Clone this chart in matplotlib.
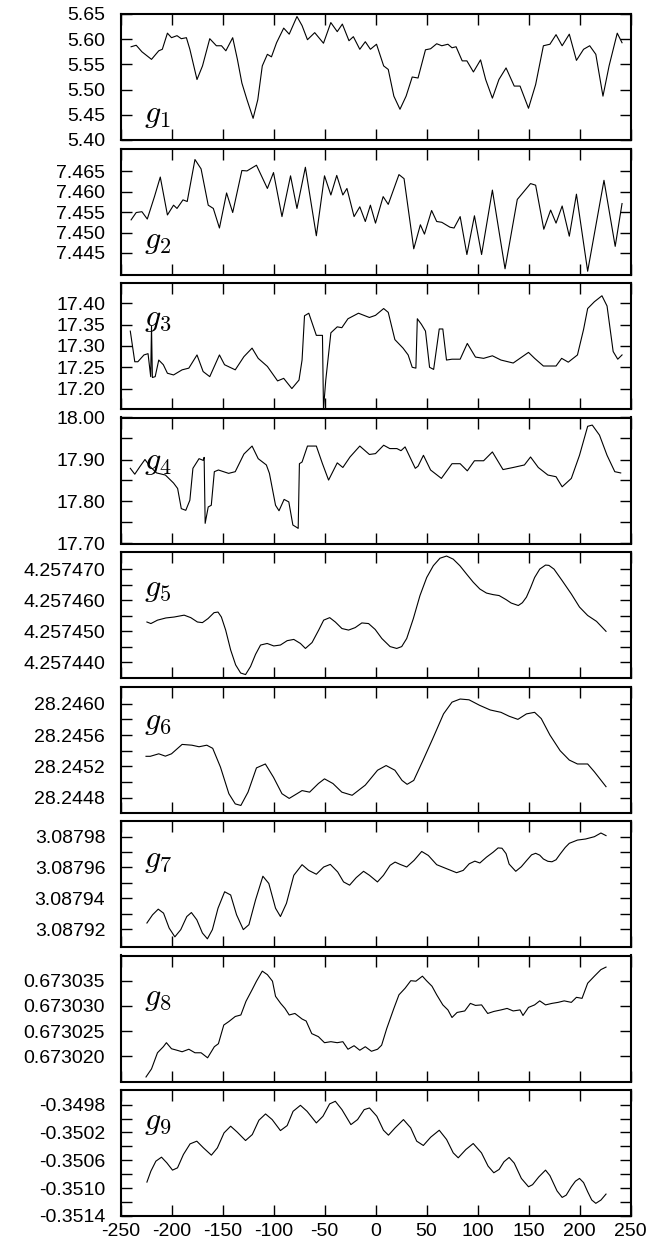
import matplotlib
matplotlib.use("Agg")
import matplotlib.pyplot as plt
from matplotlib.ticker import FixedLocator, FormatStrFormatter

plt.rcParams['font.family'] = ['Liberation Sans', 'DejaVu Sans']
plt.rcParams['mathtext.fontset'] = 'cm'

# ---- data ----
g1_x = [-239.6, -234.6, -229, -219.6, -212.5, -209, -204, -200, -194.6, -190.4, -185.4, -182, -175, -169.6,
        -162.5, -156, -151, -146.7, -140, -135.4, -131, -126, -120, -115.4, -111, -106, -102, -97, -90,
        -84.6, -77, -72, -66.7, -59.6, -51, -43.8, -37.5, -32.5, -26, -21.7, -15.4, -10, -5, 1, 8, 12.5,
        18, 24, 30, 36, 41.7, 49, 54, 60, 65, 71, 75, 79, 85, 89.6, 96, 103, 108, 114.6, 121, 128, 136,
        141.7, 150, 157, 164.6, 171, 177, 183, 190, 197, 204, 210, 216, 223, 229, 237, 241.7]
g1_y = [5.585, 5.588, 5.575, 5.560, 5.577, 5.580, 5.612, 5.603, 5.607, 5.601, 5.603, 5.580, 5.520, 5.547,
        5.601, 5.587, 5.587, 5.577, 5.603, 5.560, 5.513, 5.480, 5.443, 5.480, 5.547, 5.570, 5.565, 5.593,
        5.622, 5.610, 5.645, 5.627, 5.599, 5.613, 5.592, 5.633, 5.615, 5.630, 5.597, 5.605, 5.580, 5.595,
        5.580, 5.590, 5.547, 5.540, 5.487, 5.461, 5.487, 5.525, 5.523, 5.579, 5.581, 5.591, 5.587, 5.590,
        5.583, 5.585, 5.557, 5.557, 5.535, 5.559, 5.520, 5.483, 5.520, 5.543, 5.507, 5.507, 5.463, 5.510,
        5.587, 5.590, 5.609, 5.587, 5.610, 5.558, 5.580, 5.587, 5.570, 5.487, 5.547, 5.612, 5.593]

g2_x = [-239.6, -234.6, -229, -223.75, -216.7, -211, -204, -198, -194.6, -188.75, -184.6, -177, -171, -164,
        -159, -153, -146, -140, -131, -126, -116.7, -106, -100, -91.7, -83.3, -77, -68.75, -58, -50,
        -43.75, -38, -32, -28, -21, -15.4, -10, -5, 0, 7.5, 12.5, 23, 28, 37.5, 44, 48, 55, 60, 65, 73,
        77, 83, 89.6, 97, 104, 114.6, 127, 139, 144, 152, 157, 165, 171.7, 177, 183, 190, 197, 208, 224,
        235, 241.7]
g2_y = [7.4531, 7.4549, 7.4551, 7.4533, 7.4588, 7.4636, 7.4543, 7.4567, 7.4559, 7.4580, 7.4576, 7.4679,
        7.4656, 7.4567, 7.4559, 7.4511, 7.4597, 7.4549, 7.4652, 7.4651, 7.4665, 7.4608, 7.4647, 7.4539,
        7.4639, 7.4559, 7.4660, 7.4492, 7.4639, 7.4592, 7.4640, 7.4592, 7.4608, 7.4539, 7.4563, 7.4527,
        7.4567, 7.4523, 7.4588, 7.4569, 7.4642, 7.4632, 7.4460, 7.4519, 7.4496, 7.4554, 7.4527, 7.4525,
        7.4513, 7.4511, 7.4539, 7.4446, 7.4541, 7.4446, 7.4604, 7.4411, 7.4581, 7.4596, 7.4620, 7.4616,
        7.4508, 7.4555, 7.4523, 7.4565, 7.4491, 7.4594, 7.4405, 7.4628, 7.4466, 7.4571]

g3_x = [-240.4, -236, -233, -227, -223, -220.4, -219.6, -218.75, -216, -212.5, -208, -204, -198, -189.6,
        -183, -175, -169, -162.5, -153, -148, -137.5, -129, -121, -115, -106, -96, -90, -82, -75, -72,
        -69.6, -65.4, -58, -52, -51, -48.75, -43.75, -37.5, -33, -27, -16.7, -6, 0, 8, 12.5, 19, 27, 32,
        36, 39.6, 41, 45, 49, 53, 57, 62.5, 66, 69.6, 75, 83, 90, 98, 106, 114.6, 123, 135, 150, 156,
        164.6, 177, 182.5, 189, 198, 204, 208, 214.6, 222, 227, 233, 237.5, 241.7]
g3_y = [17.335, 17.263, 17.263, 17.279, 17.282, 17.228, 17.347, 17.226, 17.228, 17.267, 17.256, 17.236,
        17.232, 17.244, 17.248, 17.279, 17.240, 17.228, 17.279, 17.256, 17.244, 17.275, 17.295, 17.271,
        17.252, 17.218, 17.224, 17.200, 17.220, 17.267, 17.371, 17.377, 17.325, 17.325, 17.152, 17.220,
        17.331, 17.345, 17.343, 17.364, 17.377, 17.367, 17.372, 17.388, 17.379, 17.315, 17.295, 17.279,
        17.250, 17.248, 17.364, 17.351, 17.335, 17.250, 17.245, 17.340, 17.340, 17.267, 17.269, 17.269,
        17.306, 17.274, 17.271, 17.277, 17.267, 17.260, 17.285, 17.271, 17.253, 17.253, 17.271, 17.262,
        17.279, 17.339, 17.388, 17.404, 17.418, 17.394, 17.287, 17.269, 17.279]

g4_x = [-240.4, -236, -231, -226, -221, -214.6, -206, -198, -194, -190.4, -186, -182, -179, -173, -169,
        -168, -167, -164, -161, -158, -154, -144, -137.5, -129, -121, -115, -107, -104, -98, -94.6, -89.6,
        -85, -81, -77, -75.8, -74.6, -72, -66.7, -58, -52, -46, -37.5, -32, -25, -15.4, -6, 0, 8, 14, 21,
        25, 29, 39, 41.7, 47, 54, 64.6, 75, 83, 90, 97, 106, 114.6, 125, 135, 146, 152, 159.6, 169, 177,
        183, 192, 200, 208, 212.5, 219.6, 227, 234.6, 240.4]
g4_y = [17.879, 17.865, 17.883, 17.900, 17.883, 17.868, 17.863, 17.844, 17.831, 17.783, 17.779, 17.803,
        17.879, 17.902, 17.898, 17.905, 17.748, 17.787, 17.791, 17.871, 17.875, 17.867, 17.871, 17.913,
        17.932, 17.902, 17.887, 17.867, 17.791, 17.778, 17.805, 17.799, 17.744, 17.738, 17.736, 17.890,
        17.894, 17.932, 17.932, 17.890, 17.851, 17.892, 17.881, 17.906, 17.932, 17.912, 17.914, 17.934,
        17.926, 17.926, 17.921, 17.930, 17.879, 17.884, 17.910, 17.875, 17.855, 17.890, 17.890, 17.873,
        17.897, 17.897, 17.918, 17.876, 17.881, 17.887, 17.906, 17.881, 17.863, 17.859, 17.835, 17.855,
        17.910, 17.979, 17.982, 17.958, 17.910, 17.871, 17.868]

g5_x = [-224.1, -220.2, -213.7, -205.5, -197.4, -187.6, -181.1, -174.6, -169.7, -164.2, -158.3, -154.4,
        -151.1, -146.9, -142, -137.1, -132.2, -127.4, -122.5, -117.6, -112.7, -106.2, -99.7, -93.2, -86.6,
        -80.1, -73.6, -68.7, -62.2, -55.7, -50.8, -44.9, -39.4, -32.9, -26.4, -19.9, -13.4, -6.8, -0.3,
        6.2, 14.3, 20.8, 25.7, 30.6, 37.1, 43.6, 50.2, 56.7, 63.2, 69.7, 76.2, 82.7, 89.3, 95.8, 102.3,
        108.8, 115.3, 121.2, 128, 133, 140, 144, 148, 152, 156, 161, 166.7, 170, 175, 183, 192, 200, 208,
        216.7, 226]
g5_y = [4.2574530, 4.2574525, 4.2574536, 4.2574543, 4.2574546, 4.2574552, 4.2574544, 4.2574530, 4.2574528,
        4.2574541, 4.2574560, 4.2574562, 4.2574546, 4.2574504, 4.2574440, 4.2574392, 4.2574366, 4.2574361,
        4.2574387, 4.2574426, 4.2574456, 4.2574461, 4.2574453, 4.2574456, 4.2574470, 4.2574474, 4.2574461,
        4.2574445, 4.2574464, 4.2574504, 4.2574536, 4.2574544, 4.2574530, 4.2574509, 4.2574504, 4.2574512,
        4.2574527, 4.2574525, 4.2574506, 4.2574477, 4.2574451, 4.2574445, 4.2574451, 4.2574477, 4.2574541,
        4.2574615, 4.2574673, 4.2574711, 4.2574735, 4.2574742, 4.2574732, 4.2574711, 4.2574684, 4.2574658,
        4.2574636, 4.2574623, 4.2574618, 4.2574615, 4.2574602, 4.2574591, 4.2574583, 4.2574592, 4.2574610,
        4.2574640, 4.2574673, 4.2574700, 4.2574713, 4.2574712, 4.2574700, 4.2574663, 4.2574620, 4.2574578,
        4.2574551, 4.2574532, 4.2574500]

g6_x = [-225, -220.8, -212.5, -206, -200, -189.6, -180, -173, -165.4, -159.6, -152, -143.75, -137.5, -132,
        -125, -116.7, -108, -100, -91.7, -84.6, -77, -72, -64.6, -56, -50, -41.7, -33, -22.9, -10, 2, 10.4,
        19, 26, 31, 37.5, 46, 56, 66.7, 75, 83, 91.7, 102, 112.5, 123, 131, 139.6, 148, 156, 162.5, 171,
        181, 190, 198, 208, 214.6, 226]
g6_y = [28.245328, 28.245328, 28.24536, 28.24533, 28.24536, 28.24548, 28.24547, 28.24545, 28.24547,
        28.24543, 28.24519, 28.24485, 28.24472, 28.24470, 28.24487, 28.24518, 28.24523, 28.24506, 28.24485,
        28.24479, 28.24485, 28.24489, 28.24487, 28.24498, 28.24504, 28.24498, 28.24487, 28.24483, 28.24496,
        28.24515, 28.24521, 28.24515, 28.24502, 28.24497, 28.24502, 28.24526, 28.24555, 28.24587, 28.24602,
        28.24606, 28.24605, 28.24598, 28.24592, 28.24589, 28.24584, 28.24580, 28.24587, 28.24589, 28.24581,
        28.24560, 28.24540, 28.24528, 28.24523, 28.24523, 28.24513, 28.24494]

g7_x = [-224.1, -218.6, -213, -207.8, -202.3, -196.7, -190.9, -185, -180.5, -175.2, -169.7, -164.8, -159.9,
        -154.4, -147.9, -142, -136.2, -129.6, -124.1, -117.6, -110.4, -104.6, -98, -93.2, -87.3, -80.1, -72,
        -65.5, -58, -50.8, -44.3, -37.1, -31.3, -25.4, -18.9, -11.7, -5.9, 1.9, 7.8, 14.3, 19.2, 24.1, 30.6,
        37.8, 45.3, 51.8, 60, 69.7, 79.5, 86, 91.9, 97.4, 102.3, 108.8, 115.3, 120.2, 124, 128, 131, 137.5,
        143, 148, 153, 157, 161, 164.6, 169, 173, 177, 181, 186, 190, 198, 206, 214.6, 221, 226]
g7_y = [3.0879239, 3.0879292, 3.0879329, 3.0879303, 3.0879206, 3.0879149, 3.0879196, 3.0879281, 3.0879307,
        3.0879260, 3.0879174, 3.0879136, 3.0879196, 3.0879335, 3.0879442, 3.0879421, 3.0879292, 3.0879196,
        3.0879228, 3.0879389, 3.0879543, 3.0879496, 3.0879335, 3.0879281, 3.0879367, 3.0879549, 3.0879618,
        3.0879581, 3.0879556, 3.0879603, 3.0879620, 3.0879571, 3.0879506, 3.0879485, 3.0879534, 3.0879575,
        3.0879549, 3.0879506, 3.0879549, 3.0879614, 3.0879635, 3.0879620, 3.0879603, 3.0879646, 3.0879704,
        3.0879678, 3.0879618, 3.0879592, 3.0879566, 3.0879581, 3.0879624, 3.0879641, 3.0879629, 3.0879667,
        3.0879699, 3.0879727, 3.0879725, 3.0879690, 3.0879622, 3.0879575, 3.0879605, 3.0879644, 3.0879682,
        3.0879692, 3.0879680, 3.0879655, 3.0879640, 3.0879637, 3.0879650, 3.0879687, 3.0879730, 3.0879757,
        3.0879778, 3.0879785, 3.0879800, 3.0879824, 3.0879807]

g8_x = [-225, -219.6, -213.75, -208, -205, -200, -194.6, -189.6, -183, -177, -171, -164.6, -158, -154,
        -148.75, -143.75, -137.5, -132, -127, -121, -116.7, -111, -106, -101, -98, -93, -88.75, -84.6, -79,
        -72, -68, -62.5, -56, -50, -43.75, -37.5, -32, -27, -21, -15.4, -10, -4, 2, 6, 11, 18, 23, 29,
        34.6, 39.6, 46, 50, 55.4, 60, 66, 71, 75, 80, 87.5, 93, 98, 104, 110, 116, 123, 129, 135, 141.7,
        144.6, 150, 156, 161, 166.7, 173, 179, 185, 192, 197, 202.5, 208, 214.6, 221, 226]
g8_y = [0.6730159, 0.6730175, 0.6730207, 0.6730219, 0.6730227, 0.6730215, 0.6730212, 0.6730209, 0.6730214,
        0.6730207, 0.6730207, 0.6730197, 0.6730219, 0.6730225, 0.6730262, 0.6730269, 0.6730279, 0.6730282,
        0.6730309, 0.6730332, 0.6730349, 0.6730369, 0.6730362, 0.6730349, 0.6730319, 0.6730305, 0.6730295,
        0.6730282, 0.6730285, 0.6730274, 0.6730270, 0.6730245, 0.6730239, 0.6730227, 0.6730229, 0.6730227,
        0.6730229, 0.6730214, 0.6730221, 0.6730212, 0.6730219, 0.6730210, 0.6730214, 0.6730222, 0.6730255,
        0.6730295, 0.6730322, 0.6730335, 0.6730350, 0.6730349, 0.6730359, 0.6730350, 0.6730339, 0.6730322,
        0.6730302, 0.6730292, 0.6730277, 0.6730287, 0.6730290, 0.6730305, 0.6730301, 0.6730302, 0.6730285,
        0.6730289, 0.6730292, 0.6730295, 0.6730290, 0.6730292, 0.6730281, 0.6730297, 0.6730302, 0.6730310,
        0.6730302, 0.6730305, 0.6730307, 0.6730310, 0.6730307, 0.6730317, 0.6730315, 0.6730345, 0.6730359,
        0.6730372, 0.6730377]

g9_x = [-224.1, -220.2, -215.3, -209.8, -204.6, -199, -194.1, -188.3, -181.8, -175.2, -168.7, -160.9,
        -155, -148.5, -142, -135.5, -127.4, -120.8, -114.3, -107.8, -101.3, -93.2, -86.6, -80.8, -73.6,
        -67.1, -58, -51.5, -45, -39.4, -32.9, -24.1, -17.6, -11.1, -5.9, 1.3, 7.8, 12.7, 19.2, 27.4, 34.5,
        40.4, 46.9, 54.1, 62.5, 69.7, 76.2, 81.1, 88.6, 95.8, 103.9, 110.4, 116, 121.2, 126, 131, 136, 143,
        150, 154, 160, 166.7, 171, 178, 183, 187, 192, 196, 200, 204, 208, 212, 216, 221, 226]
g9_y = [-0.350913, -0.350755, -0.350612, -0.350555, -0.350636, -0.350741, -0.350708, -0.350516, -0.350364,
        -0.350325, -0.350421, -0.350526, -0.350421, -0.350206, -0.350110, -0.350196, -0.350316, -0.350230,
        -0.350024, -0.349934, -0.350015, -0.350173, -0.350101, -0.349896, -0.349810, -0.349896, -0.350063,
        -0.349967, -0.349790, -0.349752, -0.349872, -0.350087, -0.350015, -0.349872, -0.349848, -0.349967,
        -0.350168, -0.350239, -0.350134, -0.350015, -0.350134, -0.350325, -0.350387, -0.350268, -0.350168,
        -0.350301, -0.350493, -0.350564, -0.350445, -0.350359, -0.350493, -0.350684, -0.350779, -0.350731,
        -0.350620, -0.350559, -0.350640, -0.350860, -0.350980, -0.350950, -0.350840, -0.350741, -0.350820,
        -0.351040, -0.351133, -0.351100, -0.350980, -0.350900, -0.350860, -0.350920, -0.351051, -0.351170,
        -0.351218, -0.351171, -0.351085]

x_ticks = [-250, -200, -150, -100, -50, 0, 50, 100, 150, 200, 250]

# (x, y, ylim, labelled ticks, extra unlabelled ticks, tick format, name, name height)
panels = [
    (g1_x, g1_y, (5.40, 5.65), [5.40, 5.45, 5.50, 5.55, 5.60, 5.65], [], '%.2f', r'$g_1$', 0.145),
    (g2_x, g2_y, (7.4397, 7.4706), [7.445, 7.450, 7.455, 7.460, 7.465], [], '%.3f', r'$g_2$', 0.21),
    (g3_x, g3_y, (17.152, 17.448), [17.20, 17.25, 17.30, 17.35, 17.40], [], '%.2f', r'$g_3$', 0.656),
    (g4_x, g4_y, (17.70, 18.00), [17.70, 17.80, 17.90, 18.00], [17.75, 17.85, 17.95], '%.2f',
     r'$g_4$', 0.593),
    (g5_x, g5_y, (4.257435, 4.2574755), [4.257440, 4.257450, 4.257460, 4.257470],
     [4.257445, 4.257455, 4.257465], '%.6f', r'$g_5$', 0.654),
    (g6_x, g6_y, (28.24461, 28.24622), [28.2448, 28.2452, 28.2456, 28.2460],
     [28.2446, 28.2450, 28.2454, 28.2458], '%.4f', r'$g_6$', 0.664),
    (g7_x, g7_y, (3.0879083, 3.0879902), [3.08792, 3.08794, 3.08796, 3.08798],
     [3.08793, 3.08795, 3.08797], '%.5f', r'$g_7$', 0.632),
    (g8_x, g8_y, (0.673015, 0.673040), [0.673020, 0.673025, 0.673030, 0.673035], [], '%.6f',
     r'$g_8$', 0.605),
    (g9_x, g9_y, (-0.3514, -0.34959), [-0.3514, -0.3510, -0.3506, -0.3502, -0.3498],
     [-0.3512, -0.3508, -0.3504, -0.3500], '%.4f', r'$g_9$', 0.688),
]

W, H = 665, 1249
fig = plt.figure(figsize=(W / 100, H / 100), dpi=100)

left_px, width_px = 120.5, 510
top0_px, pitch_px, height_px = 14, 134.5, 126

for i, (x, y, ylim, ticks, minor, fmt, name, name_y) in enumerate(panels):
    top = top0_px + i * pitch_px
    ax = fig.add_axes([left_px / W, 1 - (top + height_px) / H, width_px / W, height_px / H])
    ax.plot(x, y, color='black', linewidth=0.8)
    ax.set_xlim(-250, 250)
    ax.set_ylim(*ylim)
    ax.xaxis.set_major_locator(FixedLocator(x_ticks))
    ax.xaxis.set_major_formatter(FormatStrFormatter('%d'))
    ax.yaxis.set_major_locator(FixedLocator(ticks))
    ax.yaxis.set_major_formatter(FormatStrFormatter(fmt))
    if minor:
        ax.yaxis.set_minor_locator(FixedLocator(minor))
    ax.tick_params(which='both', direction='in', top=True, right=True, length=8, width=1.0,
                   labelsize=14, pad=11)
    ax.tick_params(axis='x', pad=5)
    if i < len(panels) - 1:
        ax.tick_params(axis='x', labelbottom=False)
    for s in ax.spines.values():
        s.set_linewidth(1.5)
    ax.text(0.047, name_y, name, transform=ax.transAxes, fontsize=23, va='baseline', ha='left')

fig.savefig('out.png', dpi=100, facecolor='white')
